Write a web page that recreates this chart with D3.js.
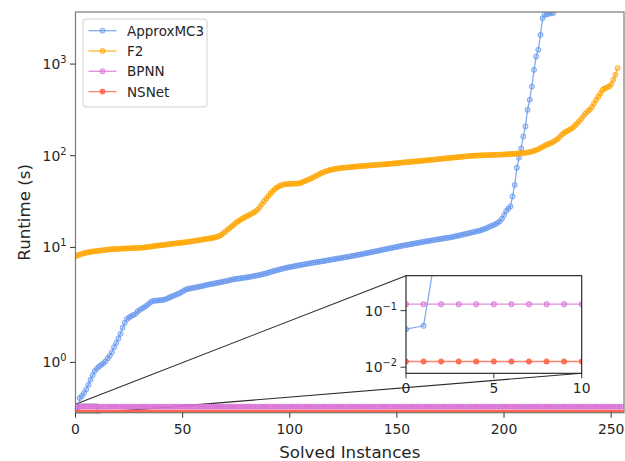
<!DOCTYPE html>
<html><head><meta charset="utf-8">
<script src="https://cdn.jsdelivr.net/npm/d3@7"></script>
<style>body{margin:0;background:#fff} svg{display:block} text{font-family:"DejaVu Sans",sans-serif}</style>
</head><body><svg id="c" width="625" height="461"></svg>
<script>
const seriesNames = ["ApproxMC3","F2","BPNN","NSNet"];
const seriesColors = ["#6495ED","#FFA500","#DA70D6","#FF6347"];
const approxmc3 = [0.047,0.054,0.30,0.34,0.40,0.47,0.56,0.66,0.75,0.83,
0.88,0.92,0.95,0.98,1.02,1.08,1.13,1.20,1.30,1.38,
1.47,1.56,1.68,1.78,1.85,1.88,1.91,1.93,1.95,2.00,
2.08,2.15,2.22,2.30,2.40,2.52,2.60,2.62,2.63,2.64,
2.66,2.67,2.72,2.78,2.85,2.92,2.98,3.05,3.12,3.20,
3.30,3.42,3.50,3.55,3.58,3.62,3.66,3.70,3.73,3.78,
3.83,3.88,3.93,3.97,4.01,4.05,4.10,4.14,4.18,4.23,
4.28,4.33,4.39,4.45,4.50,4.53,4.57,4.60,4.64,4.67,
4.71,4.75,4.80,4.85,4.90,4.95,5.01,5.08,5.14,5.21,
5.30,5.39,5.48,5.56,5.64,5.72,5.80,5.88,5.96,6.03,
6.10,6.16,6.22,6.29,6.35,6.42,6.48,6.55,6.61,6.68,
6.74,6.81,6.87,6.93,6.99,7.05,7.11,7.18,7.25,7.32,
7.39,7.46,7.53,7.60,7.67,7.74,7.81,7.89,7.97,8.05,
8.13,8.21,8.30,8.39,8.48,8.57,8.66,8.76,8.86,8.96,
9.06,9.16,9.26,9.37,9.48,9.59,9.70,9.81,9.92,10.03,
10.14,10.26,10.37,10.47,10.57,10.68,10.79,10.90,11.01,11.12,
11.23,11.34,11.45,11.56,11.67,11.78,11.89,12.00,12.11,12.22,
12.33,12.44,12.55,12.65,12.75,12.86,13.02,13.18,13.34,13.50,
13.66,13.83,14.00,14.17,14.35,14.53,14.72,14.91,15.10,15.30,
15.6,15.9,16.3,16.7,17.1,17.5,17.9,18.5,19.2,20.5,
22.5,25.0,26.5,28.0,36,48,74,95,120,162,
209,317,408,569,865,1208,1429,2084,3162,3437,
3500,3550,3580,3600];
// first ApproxMC3 points as drawn in the zoomed inset
const approxmc3Inset = [0.047,0.054,4.0];
const f2 = [8.0,8.2,8.35,8.5,8.65,8.75,8.85,8.92,9.0,9.07,
9.13,9.2,9.27,9.33,9.39,9.45,9.51,9.55,9.58,9.61,
9.64,9.67,9.70,9.72,9.75,9.77,9.80,9.82,9.84,9.86,
9.89,9.92,9.98,10.05,10.12,10.2,10.28,10.36,10.44,10.51,
10.58,10.65,10.72,10.79,10.86,10.93,11.0,11.07,11.14,11.21,
11.28,11.35,11.43,11.52,11.61,11.70,11.81,11.92,12.03,12.14,
12.25,12.36,12.47,12.58,12.70,12.85,13.05,13.27,13.7,14.3,
14.9,15.6,16.3,17.0,17.8,18.6,19.3,20.0,20.7,21.3,
21.9,22.5,23.2,23.9,24.6,25.8,27.5,29.6,31.8,34.0,
36.3,38.6,41.0,43.2,45.0,46.5,47.6,48.4,48.9,49.2,
49.4,49.5,49.6,49.7,49.8,50.3,51.5,52.8,54.0,55.2,
56.6,58.2,59.8,61.5,63.2,64.9,66.5,67.8,69.0,70.0,
70.9,71.7,72.4,72.9,73.4,73.8,74.2,74.6,75.0,75.4,
75.8,76.2,76.6,77.0,77.3,77.6,77.9,78.3,78.6,78.9,
79.3,79.6,80.0,80.3,80.7,81.0,81.4,81.8,82.2,82.6,
83.0,83.5,83.9,84.4,84.8,85.3,85.7,86.1,86.5,86.9,
87.3,87.8,88.3,88.7,89.1,89.6,90.1,90.7,91.2,91.7,
92.2,92.7,93.2,93.7,94.2,94.7,95.2,95.7,96.2,96.7,
97.2,97.8,98.4,98.9,99.3,99.7,100.0,100.3,100.6,100.9,
101.1,101.3,101.5,101.7,101.9,102.1,102.3,102.6,102.8,103.0,
103.3,103.6,103.9,104.2,104.6,105.0,105.4,105.9,106.4,107.0,
107.7,108.6,109.8,111.2,113.0,115.2,118.0,121.3,124.8,128.5,
132,135,138,142,147,152,160,170,177,183,
189,195,201,212,224,237,252,270,288,305,
317,340,372,408,440,480,524,540,555,569,
600,673,764,903];
const bpnn = [0.13,0.13,0.13,0.13,0.13,0.13,0.13,0.13,0.13,0.13,0.13,0.13,0.13,0.13,0.13,0.13,
0.13,0.13,0.13,0.13,0.13,0.13,0.13,0.13,0.13,0.13,0.13,0.13,0.13,0.13,0.13,0.13,
0.13,0.13,0.13,0.13,0.13,0.13,0.13,0.13,0.13,0.13,0.13,0.13,0.13,0.13,0.13,0.13,
0.13,0.13,0.13,0.13,0.13,0.13,0.13,0.13,0.13,0.13,0.13,0.13,0.13,0.13,0.13,0.13,
0.13,0.13,0.13,0.13,0.13,0.13,0.13,0.13,0.13,0.13,0.13,0.13,0.13,0.13,0.13,0.13,
0.13,0.13,0.13,0.13,0.13,0.13,0.13,0.13,0.13,0.13,0.13,0.13,0.13,0.13,0.13,0.13,
0.13,0.13,0.13,0.13,0.13,0.13,0.13,0.13,0.13,0.13,0.13,0.13,0.13,0.13,0.13,0.13,
0.13,0.13,0.13,0.13,0.13,0.13,0.13,0.13,0.13,0.13,0.13,0.13,0.13,0.13,0.13,0.13,
0.13,0.13,0.13,0.13,0.13,0.13,0.13,0.13,0.13,0.13,0.13,0.13,0.13,0.13,0.13,0.13,
0.13,0.13,0.13,0.13,0.13,0.13,0.13,0.13,0.13,0.13,0.13,0.13,0.13,0.13,0.13,0.13,
0.13,0.13,0.13,0.13,0.13,0.13,0.13,0.13,0.13,0.13,0.13,0.13,0.13,0.13,0.13,0.13,
0.13,0.13,0.13,0.13,0.13,0.13,0.13,0.13,0.13,0.13,0.13,0.13,0.13,0.13,0.13,0.13,
0.13,0.13,0.13,0.13,0.13,0.13,0.13,0.13,0.13,0.13,0.13,0.13,0.13,0.13,0.13,0.13,
0.13,0.13,0.13,0.13,0.13,0.13,0.13,0.13,0.13,0.13,0.13,0.13,0.13,0.13,0.13,0.13,
0.13,0.13,0.13,0.13,0.13,0.13,0.13,0.13,0.13,0.13,0.13,0.13,0.13,0.13,0.13,0.13,
0.13,0.13,0.13,0.13,0.13,0.13,0.13,0.13,0.13,0.13,0.13,0.13,0.13,0.13,0.13,0.13];
const nsnet = [0.0126,0.0126,0.0126,0.0126,0.0126,0.0126,0.0126,0.0126,0.0126,0.0126,0.0126,0.0126,0.0126,0.0126,0.0126,0.0126,
0.0126,0.0126,0.0126,0.0126,0.0126,0.0126,0.0126,0.0126,0.0126,0.0126,0.0126,0.0126,0.0126,0.0126,0.0126,0.0126,
0.0126,0.0126,0.0126,0.0126,0.0126,0.0126,0.0126,0.0126,0.0126,0.0126,0.0126,0.0126,0.0126,0.0126,0.0126,0.0126,
0.0126,0.0126,0.0126,0.0126,0.0126,0.0126,0.0126,0.0126,0.0126,0.0126,0.0126,0.0126,0.0126,0.0126,0.0126,0.0126,
0.0126,0.0126,0.0126,0.0126,0.0126,0.0126,0.0126,0.0126,0.0126,0.0126,0.0126,0.0126,0.0126,0.0126,0.0126,0.0126,
0.0126,0.0126,0.0126,0.0126,0.0126,0.0126,0.0126,0.0126,0.0126,0.0126,0.0126,0.0126,0.0126,0.0126,0.0126,0.0126,
0.0126,0.0126,0.0126,0.0126,0.0126,0.0126,0.0126,0.0126,0.0126,0.0126,0.0126,0.0126,0.0126,0.0126,0.0126,0.0126,
0.0126,0.0126,0.0126,0.0126,0.0126,0.0126,0.0126,0.0126,0.0126,0.0126,0.0126,0.0126,0.0126,0.0126,0.0126,0.0126,
0.0126,0.0126,0.0126,0.0126,0.0126,0.0126,0.0126,0.0126,0.0126,0.0126,0.0126,0.0126,0.0126,0.0126,0.0126,0.0126,
0.0126,0.0126,0.0126,0.0126,0.0126,0.0126,0.0126,0.0126,0.0126,0.0126,0.0126,0.0126,0.0126,0.0126,0.0126,0.0126,
0.0126,0.0126,0.0126,0.0126,0.0126,0.0126,0.0126,0.0126,0.0126,0.0126,0.0126,0.0126,0.0126,0.0126,0.0126,0.0126,
0.0126,0.0126,0.0126,0.0126,0.0126,0.0126,0.0126,0.0126,0.0126,0.0126,0.0126,0.0126,0.0126,0.0126,0.0126,0.0126,
0.0126,0.0126,0.0126,0.0126,0.0126,0.0126,0.0126,0.0126,0.0126,0.0126,0.0126,0.0126,0.0126,0.0126,0.0126,0.0126,
0.0126,0.0126,0.0126,0.0126,0.0126,0.0126,0.0126,0.0126,0.0126,0.0126,0.0126,0.0126,0.0126,0.0126,0.0126,0.0126,
0.0126,0.0126,0.0126,0.0126,0.0126,0.0126,0.0126,0.0126,0.0126,0.0126,0.0126,0.0126,0.0126,0.0126,0.0126,0.0126,
0.0126,0.0126,0.0126,0.0126,0.0126,0.0126,0.0126,0.0126,0.0126,0.0126,0.0126,0.0126,0.0126,0.0126,0.0126,0.0126];
const xTicks = [0,50,100,150,200,250];
const yTickExps = [0,1,2,3];
const insetXTicks = [0,5,10];
const insetYTickExps = [-1,-2];
const xLim = [0,256], yLim = [0.012,3700];
const insetXLim = [0,10], insetYLim = [0.0078,0.415];
const zoomBoxY = [0.008,0.18];
const xLabel = "Solved Instances", yLabel = "Runtime (s)";

// matplotlib-style symlog transform (base 10, linthresh 2, linscale 1)
const LT = 2, LA = 1/(1-1/10);
function symlogT(v){const a=Math.abs(v);return a<=LT? v*LA : Math.sign(v)*LT*(LA+Math.log10(a/LT));}

const svg = d3.select("#c");
svg.append("rect").attr("width",625).attr("height",461).attr("fill","#fff");
const M = {left:75.5, top:12, right:624, bottom:412.7};
const x = d3.scaleLinear().domain(xLim).range([M.left, M.right]);
const yT = d3.scaleLinear().domain([symlogT(yLim[0]), symlogT(yLim[1])]).range([M.bottom, M.top]);
const y = v => yT(symlogT(v));
const tickColor = "#333", txt = "#262626", FS = 13.9;

const defs = svg.append("defs");
defs.append("clipPath").attr("id","mainclip").append("rect")
  .attr("x",M.left).attr("y",M.top).attr("width",M.right-M.left).attr("height",M.bottom-M.top);

const series = [
  {name:seriesNames[0], data:approxmc3, inset:approxmc3Inset, color:seriesColors[0], fo:0.3, so:0.8},
  {name:seriesNames[1], data:f2, inset:f2, color:seriesColors[1], fo:0.4, so:0.85},
  {name:seriesNames[2], data:bpnn, inset:bpnn, color:seriesColors[2], fo:0.45, so:0.85},
  {name:seriesNames[3], data:nsnet, inset:nsnet, color:seriesColors[3], fo:0.85, so:0.9}
];

// zoom box + connectors (under the series)
const inset = {l:406, r:581.7, t:275.7, b:373.3};
const ix = d3.scaleLinear().domain(insetXLim).range([inset.l, inset.r]);
const iy = d3.scaleLog().domain(insetYLim).range([inset.b, inset.t]);
const conn = svg.append("g").attr("stroke","#2b2b2b").attr("stroke-width",1.1).attr("fill","none");
conn.append("rect").attr("x",x(insetXLim[0])).attr("y",y(zoomBoxY[1]))
  .attr("width",x(insetXLim[1])-x(insetXLim[0])).attr("height",y(zoomBoxY[0])-y(zoomBoxY[1])).attr("stroke","#888");
conn.append("line").attr("x1",x(insetXLim[0])).attr("y1",y(zoomBoxY[1])).attr("x2",ix(insetXLim[0])).attr("y2",inset.t);
conn.append("line").attr("x1",x(insetXLim[1])).attr("y1",y(zoomBoxY[0])).attr("x2",ix(insetXLim[1])).attr("y2",inset.b);

function drawSeries(g, xs, ys, data, s, n, r, lw){
  const pts = data.slice(0,n).map((v,i)=>[xs(i), ys(v)]);
  g.append("path").attr("d", d3.line()(pts)).attr("fill","none")
    .attr("stroke", s.color).attr("stroke-width", lw).attr("stroke-opacity", 0.8);
  g.append("g").selectAll("circle").data(pts).join("circle")
    .attr("cx", d=>d[0]).attr("cy", d=>d[1]).attr("r", r)
    .attr("fill", s.color).attr("fill-opacity", s.fo)
    .attr("stroke", s.color).attr("stroke-opacity", s.so).attr("stroke-width", 1);
}
const plot = svg.append("g").attr("clip-path","url(#mainclip)");
series.forEach(s => drawSeries(plot, x, y, s.data, s, s.data.length, 2.5, 1.3));

// main spines
svg.append("rect").attr("x",M.left).attr("y",M.top).attr("width",M.right-M.left).attr("height",M.bottom-M.top)
  .attr("fill","none").attr("stroke","#7a7a7a").attr("stroke-width",1.2);

// x ticks
const xa = svg.append("g");
xTicks.forEach(t=>{
  xa.append("line").attr("x1",x(t)).attr("x2",x(t)).attr("y1",M.bottom).attr("y2",M.bottom+5).attr("stroke",tickColor);
  xa.append("text").attr("x",x(t)).attr("y",M.bottom+21.5).attr("text-anchor","middle")
    .attr("font-size",FS).attr("fill",txt).text(t);
});
// y ticks
function powLabel(g, xp, yp, e, anchor){
  const t = g.append("text").attr("x",xp).attr("y",yp).attr("text-anchor",anchor).attr("font-size",FS).attr("fill",txt);
  t.append("tspan").text("10");
  t.append("tspan").attr("dy",-6).attr("font-size",9.8).text(e<0? "\u2212"+(-e) : String(e));
}
const ya = svg.append("g");
yTickExps.forEach(e=>{
  const v = Math.pow(10,e);
  ya.append("line").attr("x1",M.left-5.5).attr("x2",M.left).attr("y1",y(v)).attr("y2",y(v)).attr("stroke",tickColor);
  powLabel(ya, M.left-9, y(v)+5, e, "end");
});

// axis labels
svg.append("text").attr("x",(M.left+M.right)/2).attr("y",458).attr("text-anchor","middle")
  .attr("font-size",16.7).attr("fill",txt).text(xLabel);
svg.append("text").attr("transform",`translate(30,${(M.top+M.bottom)/2}) rotate(-90)`).attr("text-anchor","middle")
  .attr("font-size",16.7).attr("fill",txt).text(yLabel);

// inset
const ig = svg.append("g");
ig.append("rect").attr("x",inset.l).attr("y",inset.t).attr("width",inset.r-inset.l).attr("height",inset.b-inset.t).attr("fill","#fff");
defs.append("clipPath").attr("id","insetclip").append("rect")
  .attr("x",inset.l).attr("y",inset.t).attr("width",inset.r-inset.l).attr("height",inset.b-inset.t);
const ip = ig.append("g").attr("clip-path","url(#insetclip)");
series.forEach(s => drawSeries(ip, ix, iy, s.inset, s, insetXLim[1]+2, 2.6, 1.3));
ig.append("rect").attr("x",inset.l).attr("y",inset.t).attr("width",inset.r-inset.l).attr("height",inset.b-inset.t)
  .attr("fill","none").attr("stroke","#1a1a1a").attr("stroke-width",1.1);
insetXTicks.forEach(t=>{
  ig.append("line").attr("x1",ix(t)).attr("x2",ix(t)).attr("y1",inset.b).attr("y2",inset.b+5).attr("stroke",tickColor);
  ig.append("text").attr("x",ix(t)).attr("y",inset.b+20).attr("text-anchor","middle")
    .attr("font-size",FS).attr("fill",txt).text(t);
});
insetYTickExps.forEach(e=>{
  const v = Math.pow(10,e);
  ig.append("line").attr("x1",inset.l-5.5).attr("x2",inset.l).attr("y1",iy(v)).attr("y2",iy(v)).attr("stroke",tickColor);
  powLabel(ig, inset.l-9, iy(v)+5, e, "end");
});

// legend
const lg = svg.append("g");
lg.append("rect").attr("x",83).attr("y",19).attr("width",124).attr("height",88).attr("rx",3)
  .attr("fill","#fff").attr("fill-opacity",0.8).attr("stroke","#d0d0d0");
series.forEach((s,i)=>{
  const yy = 30.7 + i*20.3;
  lg.append("line").attr("x1",88.5).attr("x2",116.5).attr("y1",yy).attr("y2",yy)
    .attr("stroke",s.color).attr("stroke-width",1.3).attr("stroke-opacity",0.8);
  lg.append("circle").attr("cx",102.5).attr("cy",yy).attr("r",2.5).attr("fill",s.color).attr("fill-opacity",s.fo)
    .attr("stroke",s.color).attr("stroke-opacity",s.so);
  lg.append("text").attr("x",127).attr("y",yy+5).attr("font-size",13.5).attr("fill",txt).text(s.name);
});
</script></body></html>
